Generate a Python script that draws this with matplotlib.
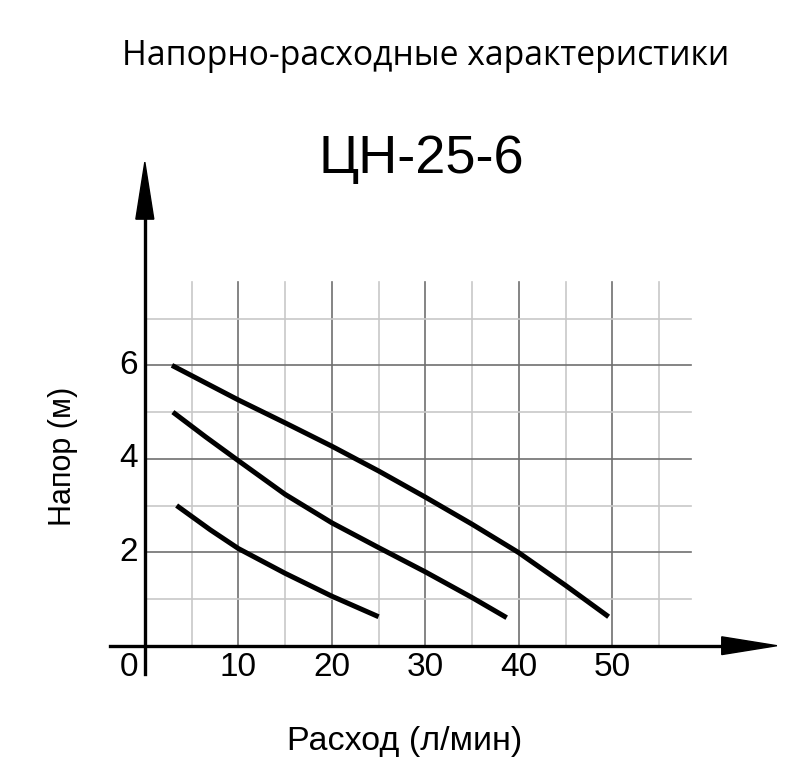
import matplotlib.pyplot as plt
from matplotlib.patches import Polygon

# curves: flow (l/min) -> head (m)
flow_top = [2.9, 10, 15, 20, 25, 30, 35, 40, 45, 49.6]
head_top = [6.0, 5.26, 4.77, 4.27, 3.74, 3.18, 2.6, 1.99, 1.29, 0.62]
flow_mid = [3.0, 6.5, 10, 15, 20, 25, 30, 35, 38.7]
head_mid = [5.0, 4.47, 3.96, 3.24, 2.63, 2.1, 1.58, 1.03, 0.6]
flow_low = [3.4, 7, 10, 15, 20, 25]
head_low = [3.0, 2.48, 2.08, 1.55, 1.06, 0.62]

x_ticks = [10, 20, 30, 40, 50]
y_ticks = [2, 4, 6]
x_grid = [5, 10, 15, 20, 25, 30, 35, 40, 45, 50, 55]
y_grid = [1, 2, 3, 4, 5, 6, 7]

plt.rcParams["font.family"] = ["Liberation Sans", "DejaVu Sans"]

fig = plt.figure(figsize=(8, 7.84), dpi=100)
ax = fig.add_axes([0, 0, 1, 1])
ax.set_xlim(-15.49, 70.07)
ax.set_ylim(-2.96, 13.82)
ax.axis("off")

# grid
for x in x_grid:
    c = "#707070" if x % 10 == 0 else "#c8c8c8"
    ax.plot([x, x], [0, 7.78], color=c, lw=1.2, zorder=1)
for y in y_grid:
    c = "#707070" if y % 2 == 0 else "#c8c8c8"
    ax.plot([0, 58.4], [y, y], color=c, lw=1.2, zorder=1)

# axes with arrows
ax.plot([0, 0], [-0.6, 9.3], color="black", lw=2.4, zorder=3)
ax.plot([-3.7, 62], [0, 0], color="black", lw=2.4, zorder=3)
ax.add_patch(Polygon([[-0.96, 9.13], [0.96, 9.13], [0, 10.35]], closed=True,
                     color="black", zorder=3))
ax.add_patch(Polygon([[61.7, -0.19], [61.7, 0.19], [67.6, 0]], closed=True,
                     color="black", zorder=3))

# curves
for fx, hy in [(flow_top, head_top), (flow_mid, head_mid), (flow_low, head_low)]:
    ax.plot(fx, hy, color="black", lw=3.6, solid_capstyle="butt",
            solid_joinstyle="round", zorder=4)

# tick labels
ax.text(-1.7, -0.47, "0", fontsize=24, ha="center", va="center")
for x in x_ticks:
    ax.text(x, -0.47, str(x), fontsize=24, ha="center", va="center")
for y in y_ticks:
    ax.text(-1.7, y, str(y), fontsize=24, ha="center", va="center")

ax.text(27.8, -2.04, "Расход (л/мин)", fontsize=24.5, ha="center", va="center")
ax.text(-8.7, 4.05, "Напор (м)", fontsize=22, ha="center", va="center", rotation=90)

fig.text(0.532, 0.929, "Напорно-расходные характеристики", fontsize=24.3,
         family=["Open Sans", "DejaVu Sans"], ha="center", va="center")
fig.text(0.527, 0.797, "ЦН-25-6", fontsize=39, ha="center", va="center")

fig.savefig("out.png", dpi=100)
